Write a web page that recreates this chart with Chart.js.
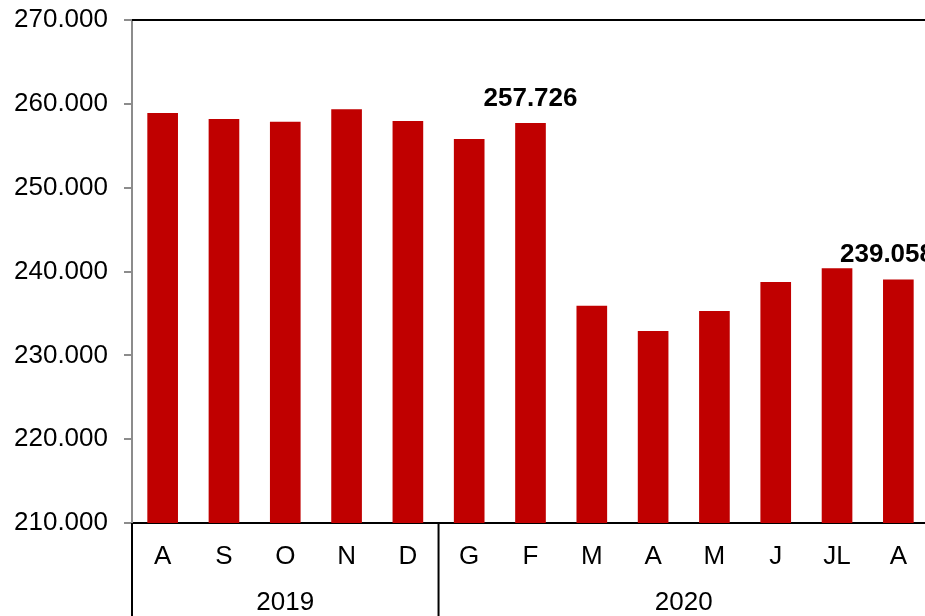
<!DOCTYPE html>
<html>
<head>
<meta charset="utf-8">
<script src="https://cdn.jsdelivr.net/npm/chart.js@4.4.1/dist/chart.umd.min.js"></script>
<style>
  html, body { margin: 0; padding: 0; background: #fff; overflow: hidden; }
  #wrap { width: 929px; height: 616px; }
</style>
</head>
<body>
<div id="wrap"><canvas id="myChart" width="929" height="616"></canvas></div>
<script>
// data
var months = ['A', 'S', 'O', 'N', 'D', 'G', 'F', 'M', 'A', 'M', 'J', 'JL', 'A'];
var values = [258900, 258200, 257850, 259350, 257950, 255800, 257726, 235900, 232900, 235300, 238750, 240400, 239058];
var valueLabels = [null, null, null, null, null, null, '257.726', null, null, null, null, null, '239.058'];
var years = ['2019', '2020'];
var yearSpans = [5, 8];
var yTicks = [210000, 220000, 230000, 240000, 250000, 260000, 270000];

var FONT = "'Liberation Sans', Arial, sans-serif";

function fmt(v) {
    return String(v).replace(/\B(?=(\d{3})+(?!\d))/g, '.');
}

// top border, year groups and value labels
var extras = {
    id: 'extras',
    afterDraw: function (chart) {
        var ctx = chart.ctx;
        var area = chart.chartArea;
        var x = chart.scales.x;
        var step = x.getPixelForValue(1) - x.getPixelForValue(0);
        ctx.save();

        ctx.strokeStyle = '#000';
        ctx.lineWidth = 2;
        ctx.beginPath();
        ctx.moveTo(area.left, area.top);
        ctx.lineTo(area.right, area.top);
        ctx.stroke();

        var start = 0;
        var bottom = chart.height;
        ctx.font = '26px ' + FONT;
        ctx.fillStyle = '#000';
        ctx.textAlign = 'center';
        ctx.textBaseline = 'middle';
        for (var i = 0; i <= years.length; i++) {
            var px = x.getPixelForValue(start) - step / 2;
            ctx.beginPath();
            ctx.moveTo(px, area.bottom);
            ctx.lineTo(px, bottom);
            ctx.stroke();
            if (i < years.length) {
                var mid = x.getPixelForValue(start + (yearSpans[i] - 1) / 2);
                ctx.fillText(years[i], mid, area.bottom + 80);
                start += yearSpans[i];
            }
        }

        var meta = chart.getDatasetMeta(0);
        ctx.font = 'bold 26px ' + FONT;
        ctx.textBaseline = 'alphabetic';
        valueLabels.forEach(function (lab, idx) {
            if (!lab) return;
            var bar = meta.data[idx];
            var w = ctx.measureText(lab).width;
            var cx = Math.min(bar.x, area.right + 5 - w / 2);
            ctx.fillText(lab, cx, bar.y - 17);
        });
        ctx.restore();
    }
};

var ctx = document.getElementById('myChart').getContext('2d');
var chart = new Chart(ctx, {
    type: 'bar',
    data: {
        labels: months,
        datasets: [{
            data: values,
            backgroundColor: '#C00000',
            borderWidth: 0,
            barPercentage: 0.5,
            categoryPercentage: 1.0
        }]
    },
    options: {
        responsive: false,
        animation: false,
        layout: { padding: { top: 20, right: 0, left: 0, bottom: 0 } },
        plugins: {
            legend: { display: false },
            tooltip: { enabled: false }
        },
        scales: {
            x: {
                afterFit: function (scale) { scale.height = 93; },
                grid: { display: false },
                border: { display: true, color: '#000', width: 2 },
                ticks: {
                    color: '#000',
                    padding: 10,
                    maxRotation: 0,
                    autoSkip: false,
                    font: { family: FONT, size: 26 }
                }
            },
            y: {
                min: 210000,
                max: 270000,
                afterFit: function (scale) {
                    scale.width = 132;
                    scale.paddingTop = 0;
                    scale.paddingBottom = 0;
                },
                afterBuildTicks: function (scale) {
                    scale.ticks = yTicks.map(function (v) { return { value: v }; });
                },
                grid: {
                    display: true,
                    drawOnChartArea: false,
                    drawTicks: true,
                    tickLength: 8,
                    color: '#8c8c8c',
                    lineWidth: 2
                },
                border: { display: true, color: '#8c8c8c', width: 2 },
                ticks: {
                    color: '#000',
                    padding: 16,
                    font: { family: FONT, size: 26 },
                    callback: function (v) { return fmt(v); }
                }
            }
        }
    },
    plugins: [extras]
});
</script>
</body>
</html>
